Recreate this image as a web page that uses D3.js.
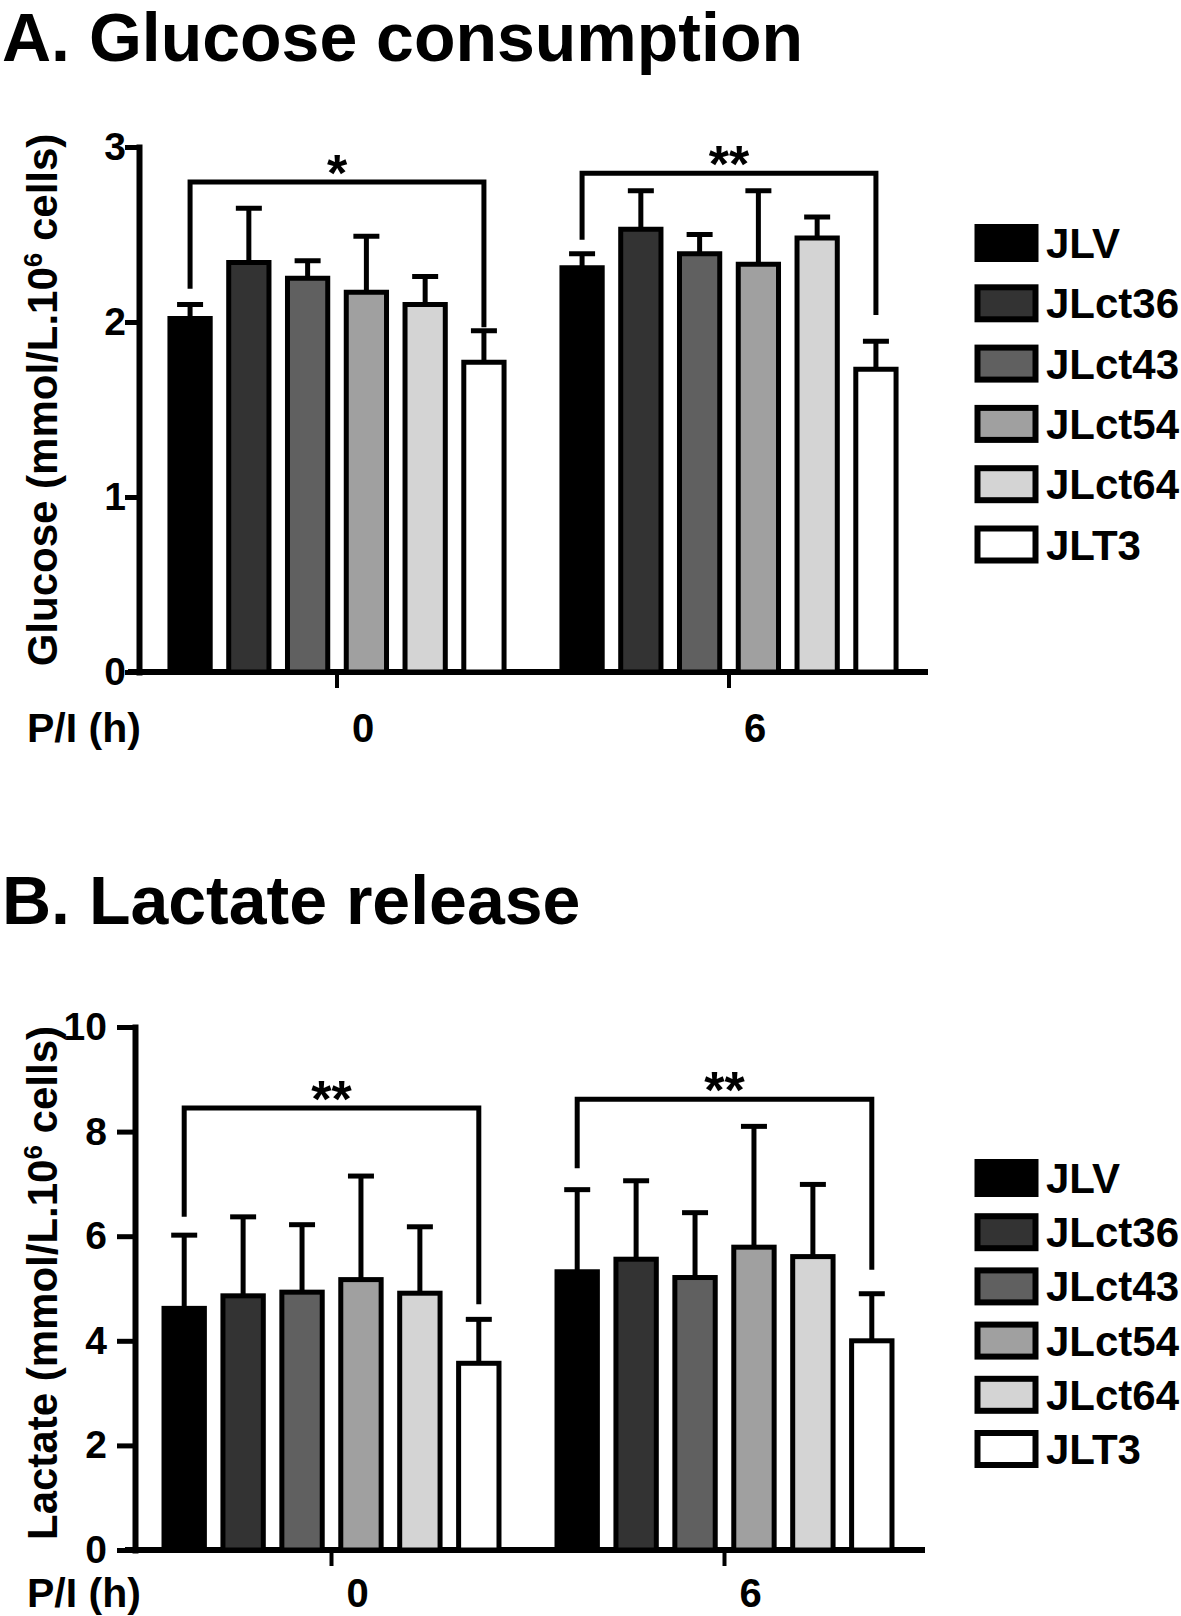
<!DOCTYPE html>
<html lang="en">
<head>
<meta charset="UTF-8">
<title>Glucose consumption and lactate release</title>
<script src="https://d3js.org/d3.v7.min.js"></script>
<style>
  body { margin: 0; background: #fff; }
  svg { display: block; font-family: "Liberation Sans", Arial, Helvetica, sans-serif; font-weight: bold; }
</style>
</head>
<body>
<script>
// categories
const series = ["JLV", "JLct36", "JLct43", "JLct54", "JLct64", "JLT3"];
const seriesColors = ["#000000", "#333333", "#606060", "#a0a0a0", "#d4d4d4", "#ffffff"];
const groups = ["0", "6"];

// A. glucose (mean, error) per P/I time
const glucoseMean0 = [2.02, 2.34, 2.25, 2.17, 2.10, 1.77];
const glucoseErr0  = [0.08, 0.31, 0.10, 0.32, 0.16, 0.18];
const glucoseMean6 = [2.31, 2.53, 2.39, 2.33, 2.48, 1.73];
const glucoseErr6  = [0.08, 0.22, 0.11, 0.42, 0.12, 0.16];
const glucoseTicks = [0, 1, 2, 3];
// significance brackets: top, left leg end, right leg end
const glucoseBracketTop   = [2.80, 2.85];
const glucoseBracketLeft  = [2.19, 2.47];
const glucoseBracketRight = [1.97, 2.04];
const glucoseStars = ["*", "**"];

// B. lactate
const lactateMean0 = [4.62, 4.86, 4.93, 5.17, 4.91, 3.57];
const lactateErr0  = [1.40, 1.51, 1.29, 1.98, 1.27, 0.84];
const lactateMean6 = [5.32, 5.56, 5.21, 5.79, 5.61, 4.00];
const lactateErr6  = [1.57, 1.50, 1.24, 2.31, 1.38, 0.90];
const lactateTicks = [0, 2, 4, 6, 8, 10];
const lactateBracketTop   = [8.45, 8.62];
const lactateBracketLeft  = [6.37, 7.30];
const lactateBracketRight = [4.70, 5.36];
const lactateStars = ["**", "**"];

const svg = d3.select("body").append("svg")
    .attr("width", 1181)
    .attr("height", 1616);

function drawPanel(p) {
    const g = svg.append("g");
    const sw = 5;

    const x = d3.scaleBand().domain(groups).range(p.xRange).padding(0);
    const xi = d3.scaleBand().domain(series).range([0, x.bandwidth()])
        .paddingInner(0.23).paddingOuter(0.45);
    const y = d3.scaleLinear().domain([0, p.yMax]).range(p.yRange);
    const y0 = y(0);

    g.append("text")
        .attr("x", 2)
        .attr("y", p.titleY)
        .attr("font-size", 68)
        .text(p.title);

    // y axis
    const yAxis = g.append("g")
        .attr("transform", `translate(${p.axisX},0)`)
        .call(d3.axisLeft(y).tickValues(p.ticks).tickFormat(d3.format("d"))
            .tickSize(p.tickLen).tickPadding(p.tickPad).tickSizeOuter(0));
    yAxis.attr("font-family", null).attr("font-size", 39).attr("font-weight", "bold");
    yAxis.select(".domain").attr("stroke-width", 6).attr("stroke-linecap", "square");
    yAxis.selectAll(".tick line").attr("stroke-width", 5);
    yAxis.selectAll(".tick text").attr("fill", "#000");

    // x axis
    g.append("line")
        .attr("x1", p.xAxisFrom).attr("x2", p.xAxisTo)
        .attr("y1", y0).attr("y2", y0)
        .attr("stroke", "#000").attr("stroke-width", 6);
    const xAxis = g.append("g")
        .attr("transform", `translate(0,${y0})`)
        .call(d3.axisBottom(x).tickSize(16).tickSizeOuter(0));
    xAxis.attr("font-family", null).attr("font-size", 40).attr("font-weight", "bold");
    xAxis.select(".domain").remove();
    xAxis.selectAll(".tick line").attr("stroke-width", 4);
    xAxis.selectAll(".tick text")
        .attr("fill", "#000")
        .attr("dx", 26)
        .attr("dy", 0)
        .attr("y", p.catLabelDy);

    g.append("text")
        .attr("x", 27)
        .attr("y", y0 + p.catLabelDy)
        .attr("font-size", 41)
        .text("P/I (h)");

    // y axis title
    const yl = g.append("text")
        .attr("transform", `translate(57,${p.yLabelY}) rotate(-90)`)
        .attr("text-anchor", "middle")
        .attr("font-size", 42);
    yl.append("tspan").text(p.yName + " (mmol/L.10");
    yl.append("tspan").attr("font-size", 26).attr("dy", -15).text("6");
    yl.append("tspan").attr("dy", 15).text(" cells)");

    const bars = groups.flatMap((grp, gi) => series.map((s, si) => ({
        grp, s, si, mean: p.means[gi][si], err: p.errs[gi][si]
    })));
    const cx = d => x(d.grp) + xi(d.s) + xi.bandwidth() / 2;

    // error bars (upper only)
    const eb = g.append("g").attr("stroke", "#000").attr("stroke-width", 5);
    eb.selectAll("line.stem").data(bars).enter().append("line")
        .attr("class", "stem")
        .attr("x1", cx).attr("x2", cx)
        .attr("y1", d => y(d.mean)).attr("y2", d => y(d.mean + d.err));
    eb.selectAll("line.cap").data(bars).enter().append("line")
        .attr("class", "cap")
        .attr("x1", d => cx(d) - 13).attr("x2", d => cx(d) + 13)
        .attr("y1", d => y(d.mean + d.err)).attr("y2", d => y(d.mean + d.err));

    g.append("g").selectAll("rect").data(bars).enter().append("rect")
        .attr("x", d => x(d.grp) + xi(d.s) + sw / 2)
        .attr("y", d => y(d.mean))
        .attr("width", xi.bandwidth() - sw)
        .attr("height", d => y0 - y(d.mean))
        .attr("fill", d => seriesColors[d.si])
        .attr("stroke", "#000")
        .attr("stroke-width", sw);

    // significance brackets
    groups.forEach((grp, gi) => {
        const xl = x(grp) + xi(series[0]) + xi.bandwidth() / 2;
        const xr = x(grp) + xi(series[series.length - 1]) + xi.bandwidth() / 2;
        g.append("path")
            .attr("d", `M${xl},${y(p.bLeft[gi])}V${y(p.bTop[gi])}H${xr}V${y(p.bRight[gi])}`)
            .attr("fill", "none")
            .attr("stroke", "#000")
            .attr("stroke-width", 5);
        g.append("text")
            .attr("x", (xl + xr) / 2)
            .attr("y", y(p.bTop[gi]) + 9)
            .attr("text-anchor", "middle")
            .attr("font-size", 52)
            .text(p.stars[gi]);
    });

    // legend
    const lg = g.append("g");
    series.forEach((s, i) => {
        const cy = p.legendTop + i * p.legendStep;
        lg.append("rect")
            .attr("x", 977.5).attr("y", cy - 16)
            .attr("width", 58).attr("height", 32)
            .attr("fill", seriesColors[i])
            .attr("stroke", "#000").attr("stroke-width", 6);
        lg.append("text")
            .attr("x", 1046).attr("y", cy + 15)
            .attr("font-size", 42)
            .text(s);
    });
}

drawPanel({
    title: "A. Glucose consumption", titleY: 61,
    yName: "Glucose", yLabelY: 400,
    yMax: 3, yRange: [672, 147], ticks: glucoseTicks,
    xRange: [141, 925], axisX: 139, xAxisFrom: 128, xAxisTo: 928,
    tickLen: 14, tickPad: -1, catLabelDy: 70,
    means: [glucoseMean0, glucoseMean6], errs: [glucoseErr0, glucoseErr6],
    bTop: glucoseBracketTop, bLeft: glucoseBracketLeft, bRight: glucoseBracketRight,
    stars: glucoseStars,
    legendTop: 243, legendStep: 60.3
});

drawPanel({
    title: "B. Lactate release", titleY: 924,
    yName: "Lactate", yLabelY: 1283,
    yMax: 10, yRange: [1550, 1027], ticks: lactateTicks,
    xRange: [135, 921], axisX: 135, xAxisFrom: 125, xAxisTo: 925,
    tickLen: 18, tickPad: 10, catLabelDy: 57,
    means: [lactateMean0, lactateMean6], errs: [lactateErr0, lactateErr6],
    bTop: lactateBracketTop, bLeft: lactateBracketLeft, bRight: lactateBracketRight,
    stars: lactateStars,
    legendTop: 1178, legendStep: 54.2
});
</script>
</body>
</html>
